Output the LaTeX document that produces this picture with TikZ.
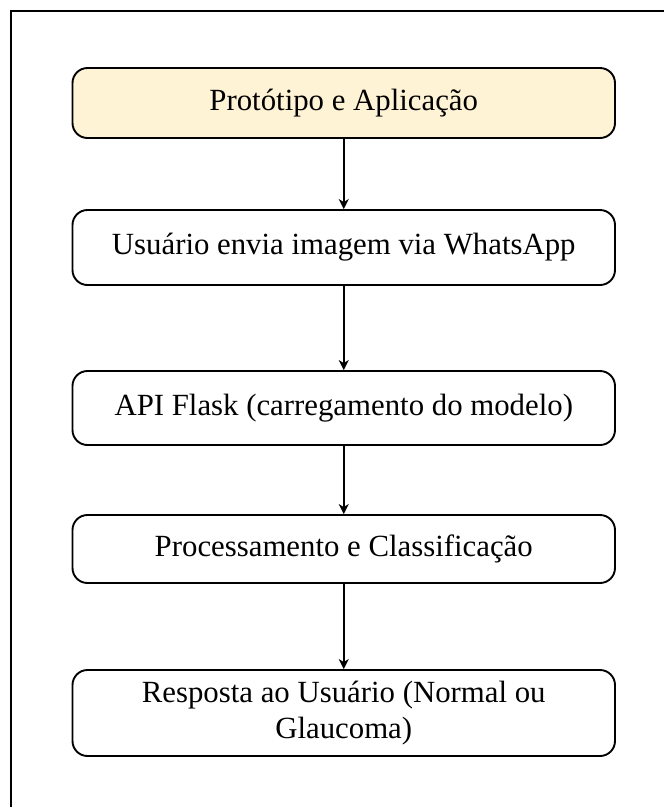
\documentclass[tikz,border=0pt]{standalone}
\usepackage{fontspec}
\setmainfont{Liberation Serif}
\usetikzlibrary{arrows.meta}
\definecolor{cream}{HTML}{FFF3D6}
\begin{document}
\begin{tikzpicture}[x=1pt,y=-1pt,
  box/.style={draw=black, line width=1.9pt, rounded corners=15pt,
    minimum width=542.5pt, align=center, inner sep=0pt,
    font=\fontsize{30.8}{36}\selectfont},
  arr/.style={-{Stealth[length=10pt,width=10pt,inset=3pt]}, line width=1.6pt}]
\useasboundingbox (0,0) rectangle (664,807);
\coordinate (fb) at (11,807);
\coordinate (fc) at (11,11);
\coordinate (fr) at (664,11);
\draw[line width=1.7pt] (fb) -- (fc) -- (fr);
\node[box, fill=cream, minimum height=70pt] (n1) at (343.75,103) {Protótipo e Aplicação};
\node[box, minimum height=75pt] (n2) at (343.75,247.5) {Usuário envia imagem via WhatsApp};
\node[box, minimum height=74pt] (n3) at (343.75,408) {API Flask (carregamento do modelo)};
\node[box, minimum height=68pt] (n4) at (343.75,549) {Processamento e Classificação};
\node[box, minimum height=86pt] (n5) at (343.75,713) {Resposta ao Usuário (Normal ou\\Glaucoma)};
\draw[arr] (n1) -- (n2);
\draw[arr] (n2) -- (n3);
\draw[arr] (n3) -- (n4);
\draw[arr] (n4) -- (n5);
\end{tikzpicture}
\end{document}
